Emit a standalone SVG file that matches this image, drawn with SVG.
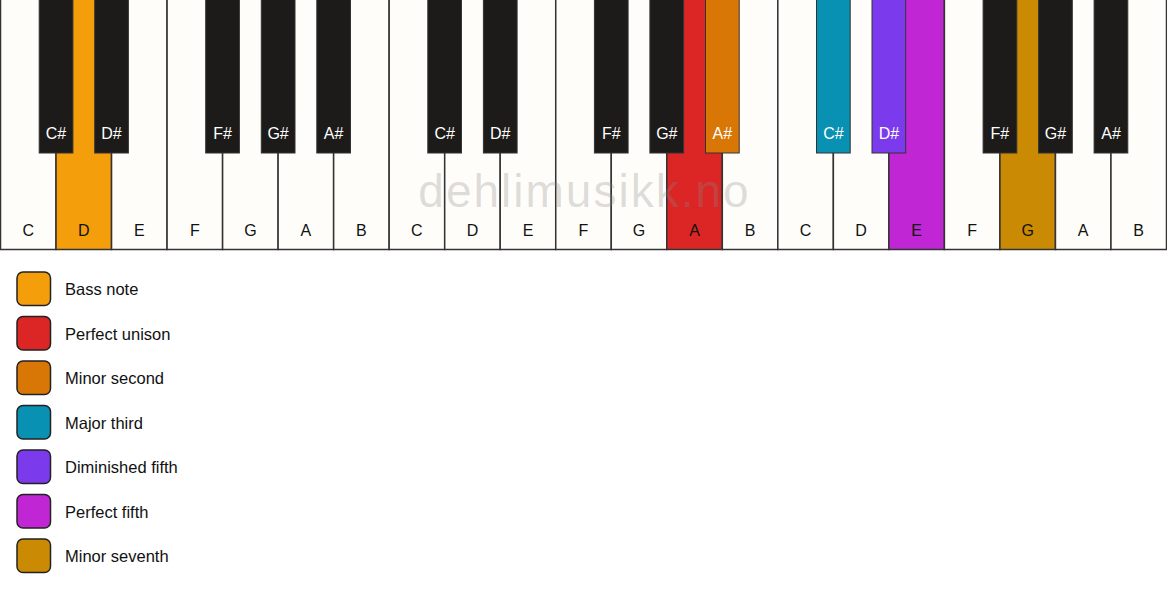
<svg xmlns="http://www.w3.org/2000/svg" width="1167" height="594" viewBox="0 0 1167 594">
<style>
.w{fill:#fffdf9;stroke:#333;stroke-width:1.5}
.b{fill:#1c1b19;stroke:#333;stroke-width:1}
.wt{font-family:"Liberation Sans",Arial,sans-serif;font-size:16px;fill:#111;text-anchor:middle}
.bt{font-family:"Liberation Sans",Arial,sans-serif;font-size:16px;fill:#fff;text-anchor:middle}
.lg{stroke:#222;stroke-width:1.5}
.lt{font-family:"Liberation Sans",Arial,sans-serif;font-size:16.5px;fill:#111}
</style>
<rect width="1167" height="594" fill="#ffffff"/>
<g id="white-keys">
<rect class="w" x="0.5" y="-1" width="55.52" height="250.5"/>
<rect class="w" x="56.02" y="-1" width="55.52" height="250.5" style="fill:#f59e0b"/>
<rect class="w" x="111.55" y="-1" width="55.52" height="250.5"/>
<rect class="w" x="167.07" y="-1" width="55.52" height="250.5"/>
<rect class="w" x="222.6" y="-1" width="55.52" height="250.5"/>
<rect class="w" x="278.12" y="-1" width="55.52" height="250.5"/>
<rect class="w" x="333.64" y="-1" width="55.52" height="250.5"/>
<rect class="w" x="389.17" y="-1" width="55.52" height="250.5"/>
<rect class="w" x="444.69" y="-1" width="55.52" height="250.5"/>
<rect class="w" x="500.21" y="-1" width="55.52" height="250.5"/>
<rect class="w" x="555.74" y="-1" width="55.52" height="250.5"/>
<rect class="w" x="611.26" y="-1" width="55.52" height="250.5"/>
<rect class="w" x="666.79" y="-1" width="55.52" height="250.5" style="fill:#dc2626"/>
<rect class="w" x="722.31" y="-1" width="55.52" height="250.5"/>
<rect class="w" x="777.83" y="-1" width="55.52" height="250.5"/>
<rect class="w" x="833.36" y="-1" width="55.52" height="250.5"/>
<rect class="w" x="888.88" y="-1" width="55.52" height="250.5" style="fill:#c026d3"/>
<rect class="w" x="944.4" y="-1" width="55.52" height="250.5"/>
<rect class="w" x="999.93" y="-1" width="55.52" height="250.5" style="fill:#ca8a04"/>
<rect class="w" x="1055.45" y="-1" width="55.52" height="250.5"/>
<rect class="w" x="1110.98" y="-1" width="55.52" height="250.5"/>
</g>
<g id="white-labels">
<text class="wt" x="28.3" y="236">C</text>
<text class="wt" x="83.8" y="236">D</text>
<text class="wt" x="139.3" y="236">E</text>
<text class="wt" x="194.8" y="236">F</text>
<text class="wt" x="250.4" y="236">G</text>
<text class="wt" x="305.9" y="236">A</text>
<text class="wt" x="361.4" y="236">B</text>
<text class="wt" x="416.9" y="236">C</text>
<text class="wt" x="472.5" y="236">D</text>
<text class="wt" x="528" y="236">E</text>
<text class="wt" x="583.5" y="236">F</text>
<text class="wt" x="639" y="236">G</text>
<text class="wt" x="694.6" y="236">A</text>
<text class="wt" x="750.1" y="236">B</text>
<text class="wt" x="805.6" y="236">C</text>
<text class="wt" x="861.1" y="236">D</text>
<text class="wt" x="916.6" y="236">E</text>
<text class="wt" x="972.2" y="236">F</text>
<text class="wt" x="1027.7" y="236">G</text>
<text class="wt" x="1083.2" y="236">A</text>
<text class="wt" x="1138.7" y="236">B</text>
</g>
<g id="black-keys">
<rect class="b" x="39.2" y="-1" width="33.7" height="154"/>
<rect class="b" x="94.7" y="-1" width="33.7" height="154"/>
<rect class="b" x="205.7" y="-1" width="33.7" height="154"/>
<rect class="b" x="261.3" y="-1" width="33.7" height="154"/>
<rect class="b" x="316.8" y="-1" width="33.7" height="154"/>
<rect class="b" x="427.8" y="-1" width="33.7" height="154"/>
<rect class="b" x="483.4" y="-1" width="33.7" height="154"/>
<rect class="b" x="594.4" y="-1" width="33.7" height="154"/>
<rect class="b" x="649.9" y="-1" width="33.7" height="154"/>
<rect class="b" x="705.5" y="-1" width="33.7" height="154" style="fill:#d97706"/>
<rect class="b" x="816.5" y="-1" width="33.7" height="154" style="fill:#0891b2"/>
<rect class="b" x="872" y="-1" width="33.7" height="154" style="fill:#7c3aed"/>
<rect class="b" x="983.1" y="-1" width="33.7" height="154"/>
<rect class="b" x="1038.6" y="-1" width="33.7" height="154"/>
<rect class="b" x="1094.1" y="-1" width="33.7" height="154"/>
</g>
<g id="black-labels">
<text class="bt" x="56" y="139">C#</text>
<text class="bt" x="111.5" y="139">D#</text>
<text class="bt" x="222.6" y="139">F#</text>
<text class="bt" x="278.1" y="139">G#</text>
<text class="bt" x="333.6" y="139">A#</text>
<text class="bt" x="444.7" y="139">C#</text>
<text class="bt" x="500.2" y="139">D#</text>
<text class="bt" x="611.3" y="139">F#</text>
<text class="bt" x="666.8" y="139">G#</text>
<text class="bt" x="722.3" y="139">A#</text>
<text class="bt" x="833.4" y="139">C#</text>
<text class="bt" x="888.9" y="139">D#</text>
<text class="bt" x="999.9" y="139">F#</text>
<text class="bt" x="1055.5" y="139">G#</text>
<text class="bt" x="1111" y="139">A#</text>
</g>
<text id="watermark" x="584.5" y="207" font-family="Liberation Sans,Arial,sans-serif" font-size="46" letter-spacing="2" fill="#888" fill-opacity="0.28" text-anchor="middle">dehlimusikk.no</text>
<g id="legend">
<g id="legend-bass"><rect class="lg" x="17" y="272" width="33.5" height="33.5" rx="6" fill="#f59e0b"/><text class="lt" x="65" y="295">Bass note</text></g>
<g id="legend-unison"><rect class="lg" x="17" y="316.5" width="33.5" height="33.5" rx="6" fill="#dc2626"/><text class="lt" x="65" y="339.5">Perfect unison</text></g>
<g id="legend-minor2"><rect class="lg" x="17" y="361" width="33.5" height="33.5" rx="6" fill="#d97706"/><text class="lt" x="65" y="384">Minor second</text></g>
<g id="legend-major3"><rect class="lg" x="17" y="405.5" width="33.5" height="33.5" rx="6" fill="#0891b2"/><text class="lt" x="65" y="428.5">Major third</text></g>
<g id="legend-dim5"><rect class="lg" x="17" y="450" width="33.5" height="33.5" rx="6" fill="#7c3aed"/><text class="lt" x="65" y="473">Diminished fifth</text></g>
<g id="legend-perf5"><rect class="lg" x="17" y="494.5" width="33.5" height="33.5" rx="6" fill="#c026d3"/><text class="lt" x="65" y="517.5">Perfect fifth</text></g>
<g id="legend-minor7"><rect class="lg" x="17" y="539" width="33.5" height="33.5" rx="6" fill="#ca8a04"/><text class="lt" x="65" y="562">Minor seventh</text></g>
</g>
</svg>
